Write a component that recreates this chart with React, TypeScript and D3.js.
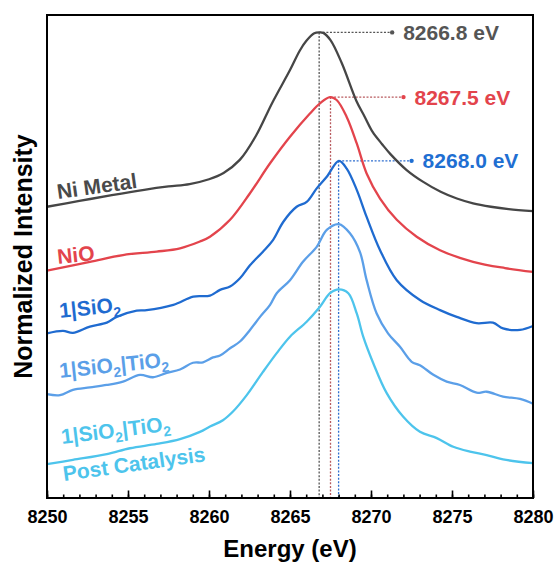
import { useEffect, useRef } from "react";
import * as d3 from "d3";

type Pt = [number, number];

// energy (eV) vs normalized intensity, curves already stacked
const niMetal: Pt[] = [
  [8250, 0.603], [8252, 0.615], [8254, 0.627], [8256, 0.638], [8257.5, 0.645],
  [8258.8, 0.65], [8260, 0.66], [8260.9, 0.673], [8261.9, 0.7], [8262.9, 0.75],
  [8263.9, 0.818], [8265, 0.886], [8265.6, 0.926], [8266, 0.946], [8266.5, 0.962],
  [8266.8, 0.964], [8267.05, 0.963], [8267.5, 0.948], [8268.2, 0.9], [8269.1, 0.822],
  [8269.6, 0.79], [8270.1, 0.758], [8270.7, 0.732], [8271.2, 0.712], [8272.2, 0.679],
  [8273.2, 0.655], [8274.3, 0.634], [8275.3, 0.62], [8276.3, 0.61], [8277.4, 0.603],
  [8278.5, 0.598], [8280, 0.594],
];

const nio: Pt[] = [
  [8250, 0.471], [8252.65, 0.489], [8254.69, 0.503], [8256.77, 0.51], [8258.21, 0.517],
  [8259.44, 0.531], [8260.06, 0.541], [8261.3, 0.576], [8262.53, 0.631], [8263.77, 0.693],
  [8265, 0.748], [8266.23, 0.796], [8266.85, 0.817], [8267.47, 0.83], [8267.88, 0.824],
  [8268.5, 0.789], [8269.12, 0.734], [8269.73, 0.672], [8270.56, 0.62], [8271.59, 0.576],
  [8272.82, 0.541], [8274.26, 0.513], [8276.3, 0.489], [8278.27, 0.476], [8280, 0.468],
];

const sio2: Pt[] = [
  [8250, 0.341], [8250.99, 0.346], [8251.6, 0.342], [8252.65, 0.355], [8253.69, 0.363],
  [8254.3, 0.375], [8255.54, 0.388], [8256.15, 0.389], [8257.8, 0.4], [8259.03, 0.417],
  [8260.06, 0.419], [8260.68, 0.431], [8261.3, 0.438], [8261.91, 0.455], [8262.53, 0.482],
  [8263.33, 0.51], [8263.95, 0.534], [8264.59, 0.572], [8265.41, 0.603], [8266.03, 0.613],
  [8266.65, 0.641], [8267.27, 0.665], [8268.02, 0.698], [8268.5, 0.682], [8269.12, 0.638],
  [8269.73, 0.582], [8270.56, 0.513], [8271.59, 0.451], [8273.02, 0.41], [8274.26, 0.389],
  [8275.29, 0.375], [8276.52, 0.362], [8277.53, 0.363], [8278.15, 0.351], [8279.2, 0.348],
  [8280, 0.356],
];

const sio2tio2: Pt[] = [
  [8250, 0.215], [8250.8, 0.213], [8251.6, 0.224], [8252.65, 0.229], [8253.69, 0.234],
  [8254.69, 0.241], [8255.74, 0.255], [8256.54, 0.25], [8257.39, 0.259], [8258.21, 0.266],
  [8259.01, 0.28], [8259.63, 0.281], [8260.25, 0.291], [8260.68, 0.295], [8261.3, 0.31],
  [8261.91, 0.324], [8262.53, 0.348], [8263.15, 0.375], [8263.77, 0.4], [8264.18, 0.424],
  [8265, 0.451], [8265.8, 0.489], [8266.65, 0.52], [8267.27, 0.555], [8268.02, 0.567],
  [8268.7, 0.548], [8269.32, 0.509], [8269.73, 0.451], [8270.35, 0.382], [8271.05, 0.341],
  [8271.79, 0.313], [8272.51, 0.282], [8273.02, 0.275], [8273.85, 0.255], [8274.67, 0.241],
  [8275.49, 0.234], [8276.52, 0.218], [8277.14, 0.22], [8278.15, 0.21], [8279.2, 0.205],
  [8280, 0.195],
];

const postCatalysis: Pt[] = [
  [8250, 0.07], [8251.6, 0.079], [8253.69, 0.091], [8255.12, 0.103], [8256.77, 0.112],
  [8258.21, 0.122], [8259.44, 0.137], [8260.06, 0.148], [8260.86, 0.161], [8261.48, 0.179],
  [8262.33, 0.213], [8263.33, 0.261], [8264.18, 0.3], [8265, 0.334], [8266.03, 0.365],
  [8266.85, 0.396], [8267.47, 0.424], [8268.02, 0.432], [8268.6, 0.424], [8269.12, 0.382],
  [8269.52, 0.334], [8270.14, 0.279], [8270.97, 0.217], [8271.99, 0.168], [8273.02, 0.137],
  [8274.06, 0.124], [8275.08, 0.106], [8276.11, 0.096], [8277.14, 0.089], [8278.15, 0.08],
  [8280, 0.072],
];

const seriesData = [niMetal, nio, sio2, sio2tio2, postCatalysis];
const seriesColors = ["#464646", "#e3444c", "#1f6bd0", "#5b9fe8", "#4dc4ec"];

// label text pieces: [text, isSubscript]
const seriesLabels: [string, boolean][][] = [
  [["Ni Metal", false]],
  [["NiO", false]],
  [["1|SiO", false], ["2", true]],
  [["1|SiO", false], ["2", true], ["|TiO", false], ["2", true]],
  [["1|SiO", false], ["2", true], ["|TiO", false], ["2", true]],
  [["Post Catalysis", false]],
];
const seriesLabelColors = ["#4a4a4a", "#e3444c", "#1f6bd0", "#5b9fe8", "#4dc4ec", "#4dc4ec"];
const labelPlacement = [
  { x: 58, y: 199, rot: -8 },
  { x: 58, y: 264, rot: -6 },
  { x: 60, y: 318, rot: -6 },
  { x: 60, y: 378, rot: -6 },
  { x: 62, y: 444, rot: -7 },
  { x: 64, y: 481, rot: -8 },
];

const peakSeries = [0, 1, 2];
const peakEnergies = [8266.8, 8267.5, 8268.0];
const peakLabels = ["8266.8 eV", "8267.5 eV", "8268.0 eV"];
const peakLabelColors = ["#555555", "#e3444c", "#1f6fd2"];
const peakLineColors = ["#555555", "#b85a5e", "#2f6fd0"];

const majorTicks = [8250, 8255, 8260, 8265, 8270, 8275, 8280];
const minorTicks = d3.range(8250, 8281);

const FONT = "'Liberation Sans', Arial, Helvetica, sans-serif";

const App = () => {
  const ref = useRef<SVGSVGElement | null>(null);

  useEffect(() => {
    if (!ref.current) return;
    const svg = d3.select(ref.current);
    svg.selectAll("*").remove();
    const width = 555;
    const height = 565;
    const margin = { top: 15, right: 22, bottom: 67, left: 47 };

    const x = d3.scaleLinear().domain([8250, 8280]).range([margin.left, width - margin.right]);
    const y = d3.scaleLinear().domain([0, 1]).range([height - margin.bottom, margin.top]);

    // peak guides
    peakSeries.forEach((si, i) => {
      const top = d3.max(seriesData[si], d => d[1]) as number;
      const px = x(peakEnergies[i]);
      const py = y(top);
      const endX = px + 73;
      svg.append("line")
        .attr("x1", px).attr("x2", px).attr("y1", py).attr("y2", y(0))
        .attr("stroke", peakLineColors[i]).attr("stroke-width", 1.3)
        .attr("stroke-dasharray", "2,1.6");
      svg.append("line")
        .attr("x1", px).attr("x2", endX).attr("y1", py).attr("y2", py)
        .attr("stroke", peakLineColors[i]).attr("stroke-width", 1.3)
        .attr("stroke-dasharray", "2,1.6");
      svg.append("circle")
        .attr("cx", endX).attr("cy", py).attr("r", 2.2)
        .attr("fill", peakLabelColors[i]);
      svg.append("text")
        .attr("x", endX + 11).attr("y", py).attr("dy", "0.36em")
        .attr("font-family", FONT).attr("font-weight", "bold").attr("font-size", 21)
        .attr("fill", peakLabelColors[i])
        .text(peakLabels[i]);
    });

    const line = d3.line<Pt>()
      .x(d => x(d[0]))
      .y(d => y(d[1]))
      .curve(d3.curveCatmullRom.alpha(0.5));

    seriesData.forEach((s, i) => {
      svg.append("path")
        .datum(s)
        .attr("fill", "none")
        .attr("stroke", seriesColors[i])
        .attr("stroke-width", 2.3)
        .attr("stroke-linejoin", "round")
        .attr("d", line);
    });

    // series labels
    seriesLabels.forEach((parts, i) => {
      const p = labelPlacement[i];
      const t = svg.append("text")
        .attr("transform", `translate(${p.x},${p.y}) rotate(${p.rot})`)
        .attr("font-family", FONT).attr("font-weight", "bold").attr("font-size", 21)
        .attr("fill", seriesLabelColors[i]);
      let sub = false;
      parts.forEach(([txt, isSub]) => {
        const ts = t.append("tspan").text(txt);
        if (isSub) ts.attr("font-size", 14);
        if (isSub && !sub) ts.attr("dy", 5);
        if (!isSub && sub) ts.attr("dy", -5);
        sub = isSub;
      });
    });

    // frame
    svg.append("rect")
      .attr("x", margin.left).attr("y", margin.top)
      .attr("width", width - margin.left - margin.right)
      .attr("height", height - margin.top - margin.bottom)
      .attr("fill", "none").attr("stroke", "#000").attr("stroke-width", 2);

    const minor = svg.append("g")
      .attr("transform", `translate(0,${y(0)})`)
      .call(d3.axisBottom(x).tickValues(minorTicks).tickSize(-3.5).tickFormat(() => ""));
    minor.select(".domain").remove();
    minor.selectAll("line").attr("stroke-width", 1.6);

    const major = svg.append("g")
      .attr("transform", `translate(0,${y(0)})`)
      .call(d3.axisBottom(x).tickValues(majorTicks).tickSize(-7.5).tickPadding(12).tickFormat(d3.format("d")));
    major.select(".domain").remove();
    major.selectAll("line").attr("stroke-width", 1.6);
    major.selectAll("text")
      .attr("font-family", FONT).attr("font-weight", "bold").attr("font-size", 18).attr("fill", "#000");

    svg.append("text")
      .attr("x", (margin.left + width - margin.right) / 2).attr("y", 557)
      .attr("text-anchor", "middle")
      .attr("font-family", FONT).attr("font-weight", "bold").attr("font-size", 24)
      .text("Energy (eV)");

    svg.append("text")
      .attr("transform", `translate(32,${(margin.top + height - margin.bottom) / 2}) rotate(-90)`)
      .attr("text-anchor", "middle")
      .attr("font-family", FONT).attr("font-weight", "bold").attr("font-size", 25)
      .text("Normalized Intensity");
  }, []);

  return (
    <svg
      ref={ref}
      width={555}
      height={565}
      style={{ position: "absolute", left: 0, top: 0, background: "#fff" }}
    />
  );
};

export default App;
